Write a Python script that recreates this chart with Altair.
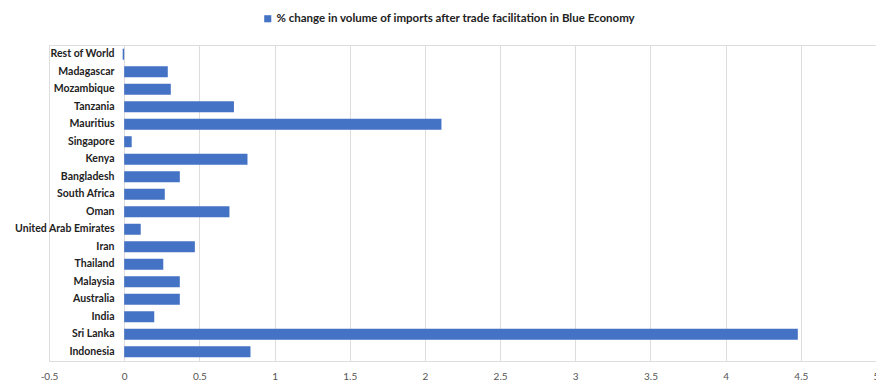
import altair as alt
import pandas as pd

countries = ["Rest of World", "Madagascar", "Mozambique", "Tanzania", "Mauritius",
             "Singapore", "Kenya", "Bangladesh", "South Africa", "Oman",
             "United Arab Emirates", "Iran", "Thailand", "Malaysia", "Australia",
             "India", "Sri Lanka", "Indonesia"]
values = [-0.01, 0.29, 0.31, 0.73, 2.11, 0.05, 0.82, 0.37, 0.27, 0.70,
          0.11, 0.47, 0.26, 0.37, 0.37, 0.20, 4.48, 0.84]
series = "% change in volume of imports after trade facilitation in Blue Economy"
ticks = [-0.5, 0, 0.5, 1, 1.5, 2, 2.5, 3, 3.5, 4, 4.5, 5]

df = pd.DataFrame({"country": countries, "value": values, "series": series})

FONT = "Lato"

chart = alt.Chart(df).mark_bar(size=11).encode(
    y=alt.Y("country:N", sort=countries, title=None,
            scale=alt.Scale(paddingInner=0.35, paddingOuter=0.2),
            axis=alt.Axis(offset=-75, domain=False, ticks=False, labelPadding=10,
                          labelFont=FONT, labelFontWeight="bold", labelFontSize=10.5,
                          labelColor="#222222", grid=False)),
    x=alt.X("value:Q", title=None,
            scale=alt.Scale(domain=[-0.5, 5], nice=False, zero=False),
            axis=alt.Axis(values=ticks, labelExpr="datum.value + ''", domain=False,
                          ticks=False, labelPadding=10, labelFont=FONT,
                          labelFontSize=10, labelColor="#555555",
                          gridColor="#dddddd", gridWidth=1, labelFlush=False)),
    color=alt.Color("series:N", title=None,
                    scale=alt.Scale(range=["#4472C4"]),
                    legend=alt.Legend(orient="none", legendX=213, legendY=-32,
                                      symbolType="square", symbolSize=50,
                                      labelOffset=3,
                                      labelFont=FONT, labelFontWeight="bold",
                                      labelFontSize=11.5, labelColor="#222222",
                                      labelLimit=500)),
).properties(
    width=827, height=316,
    autosize=alt.AutoSizeParams(type="none"),
    padding={"left": 49, "top": 45, "right": 0, "bottom": 20},
).configure_view(stroke=None).configure(background="white")

chart.save("out.html", embed_options={"renderer": "svg", "actions": False})
